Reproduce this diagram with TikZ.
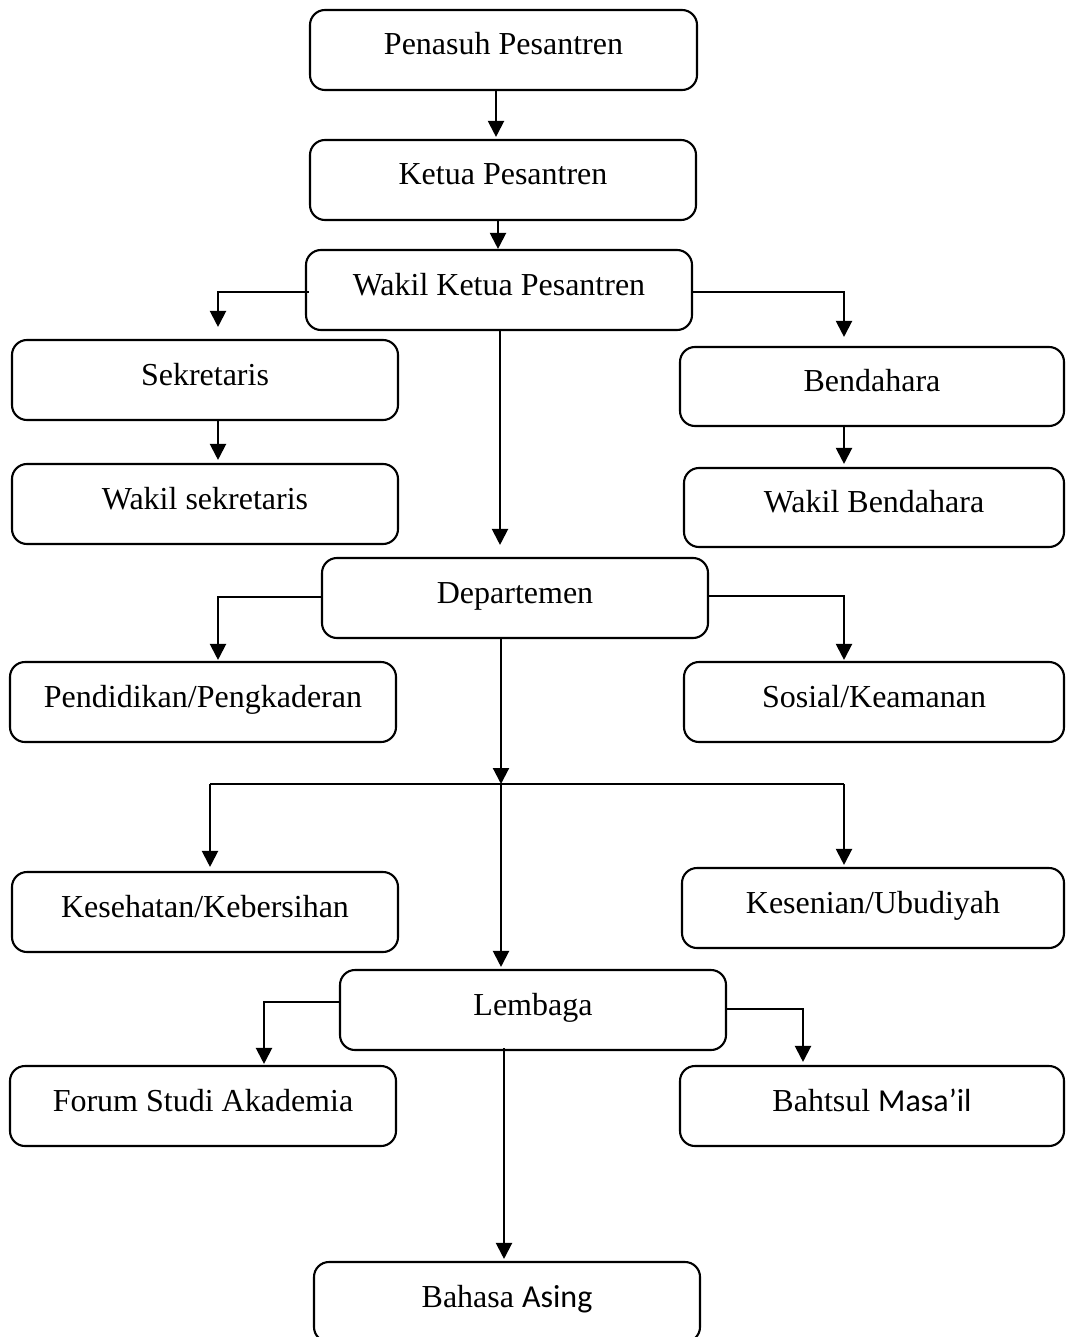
\documentclass[tikz,border=0pt]{standalone}
\usepackage{fontspec}
\setmainfont{Liberation Serif}
\newfontfamily\calfont{Carlito}
\usetikzlibrary{arrows.meta}
\begin{document}
\begin{tikzpicture}[x=1pt,y=-1pt,
  box/.style={draw, rounded corners=15pt, line width=2.1pt, minimum width=386pt,
    minimum height=80pt, inner sep=0pt, text height=20pt, text depth=10pt,
    font=\fontsize{32}{38}\selectfont},
  line/.style={line width=2.1pt},
  arr/.style={line width=2.1pt, -{Triangle[length=16pt,width=16pt]}}]
\useasboundingbox (0,0) rectangle (1065,1337);
% boxes
\node[box, minimum width=387pt] (pen) at (503.5,50) {Penasuh Pesantren};
\node[box] (ket) at (503,180) {Ketua Pesantren};
\node[box] (wak) at (499,290) {Wakil Ketua Pesantren};
\node[box] (sek) at (205,380) {Sekretaris};
\node[box, minimum width=384pt, minimum height=79pt] (ben) at (872,386.5) {Bendahara};
\node[box] (wsek) at (205,504) {Wakil sekretaris};
\node[box, minimum width=380pt, minimum height=79pt] (wben) at (874,507.5) {Wakil Bendahara};
\node[box] (dep) at (515,598) {Departemen};
\node[box] (pend) at (203,702) {Pendidikan/Pengkaderan};
\node[box, minimum width=380pt] (sos) at (874,702) {Sosial/Keamanan};
\node[box] (kes) at (205,912) {Kesehatan/Kebersihan};
\node[box, minimum width=382pt] (ksn) at (873,908) {Kesenian/Ubudiyah};
\node[box] (lem) at (533,1010) {Lembaga};
\node[box] (for) at (203,1106) {Forum Studi Akademia};
\node[box, minimum width=384pt] (bah) at (872,1106) {Bahtsul {\calfont Masa’il}};
\node[box] (bas) at (507,1302) {Bahasa {\calfont Asing}};
% connectors
\coordinate (c1) at (496,0);
\draw[arr] (pen.south -| c1) -- ([yshift=2pt]ket.north -| c1);
\coordinate (c2) at (498,0);
\draw[arr] (ket.south -| c2) -- (wak.north -| c2);
\coordinate (c3) at (218,292);
\draw[arr] ([xshift=4pt]wak.west |- c3) -| ([yshift=12pt]sek.north -| c3);
\coordinate (c4) at (844,292);
\draw[arr] (wak.east |- c4) -| ([yshift=9pt]ben.north -| c4);
\coordinate (c5) at (500,0);
\draw[arr] (wak.south -| c5) -- ([yshift=12pt]dep.north -| c5);
\coordinate (c6) at (218,0);
\draw[arr] (sek.south -| c6) -- ([yshift=3pt]wsek.north -| c6);
\draw[arr] (ben.south -| c4) -- ([yshift=3pt]wben.north -| c4);
\coordinate (c7) at (218,597);
\draw[arr] (dep.west |- c7) -| ([yshift=1pt]pend.north -| c7);
\coordinate (c8) at (844,596);
\draw[arr] (dep.east |- c8) -| ([yshift=1pt]sos.north -| c8);
\coordinate (j) at (501,784);
\draw[arr] (dep.south -| j) -- (j);
\coordinate (jl) at (210,784);
\coordinate (jr) at (844,784);
\draw[line] (jl) -- (jr);
\draw[arr] (jl) -- ([yshift=4pt]kes.north -| jl);
\draw[arr] (jr) -- ([yshift=2pt]ksn.north -| jr);
\draw[arr] (j) -- ([yshift=2pt]lem.north -| j);
\coordinate (c9) at (264,1002);
\draw[arr] (lem.west |- c9) -| ([yshift=1pt]for.north -| c9);
\coordinate (c10) at (803,1009);
\draw[arr] (lem.east |- c10) -| ([yshift=3pt]bah.north -| c10);
\coordinate (c11) at (504,0);
\draw[arr] ([yshift=3pt]lem.south -| c11) -- ([yshift=2pt]bas.north -| c11);
\end{tikzpicture}
\end{document}
